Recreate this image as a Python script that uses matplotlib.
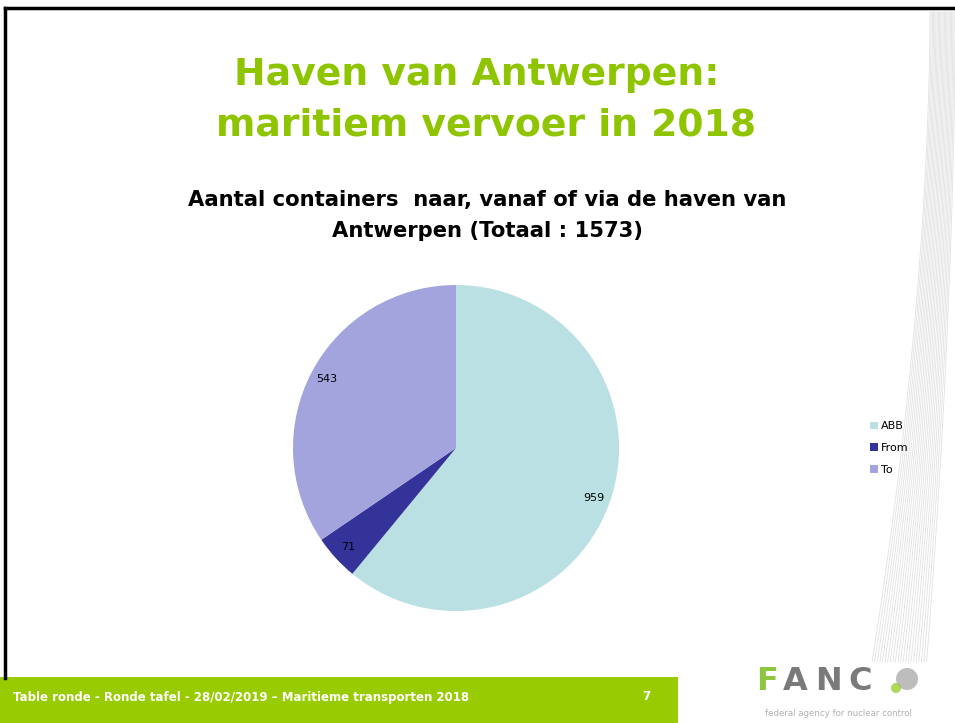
import numpy as np
import matplotlib.pyplot as plt
from matplotlib.patches import Rectangle, Circle

# data
categories = ["ABB", "From", "To"]
counts = [959, 71, 543]
colors = ["#bbe0e3", "#333399", "#a3a3dd"]

title_lines = ["Haven van Antwerpen:", "maritiem vervoer in 2018"]
subtitle_lines = ["Aantal containers  naar, vanaf of via de haven van",
                  "Antwerpen (Totaal : 1573)"]
footer = "Table ronde - Ronde tafel - 28/02/2019 \u2013 Maritieme transporten 2018"

W, H = 955, 723
fig = plt.figure(figsize=(W / 100, H / 100), dpi=100)
fig.patch.set_facecolor("white")
plt.rcParams["font.family"] = ["DejaVu Sans"]


def fx(px):
    return px / W


def fy(py):
    return 1 - py / H


# background layer for the slide decorations
bg = fig.add_axes([0, 0, 1, 1])
bg.set_xlim(0, W)
bg.set_ylim(H, 0)
bg.axis("off")

# faint decorative stripes on the right
t = np.linspace(0, 1, 80)
for i in range(22):
    top = 930 + i * 1.2
    bot = 872 + i * 2.6
    xs = top + (bot - top) * t ** 1.8
    ys = 12 + 650 * t
    bg.plot(xs, ys, color="#e2e2e2", lw=0.6)

# slide border (top and left)
bg.plot([5, W], [8, 8], color="black", lw=2.5)
bg.plot([5, 5], [8, 678], color="black", lw=2.5)

# footer bar
bg.add_patch(Rectangle((0, 677), 678, 46, color="#99cc00", lw=0))
bg.text(13, 697, footer, color="white", fontsize=8.5, fontweight="bold",
        va="center", ha="left")
bg.text(646, 697, "7", color="white", fontsize=8.5, fontweight="bold",
        va="center", ha="center")

# logo
for ch, x, c in zip("FANC", [756, 783, 815, 848],
                    ["#8dc63f", "#7a7a7a", "#7a7a7a", "#7a7a7a"]):
    bg.text(x, 682, ch, color=c, fontsize=23, fontweight="bold",
            va="center", ha="left")
bg.add_patch(Circle((907, 679), 11, color="#bdbdbd", lw=0))
bg.add_patch(Circle((896, 688), 5, color="#9acd32", lw=0, alpha=0.8))
bg.text(838, 713, "federal agency for nuclear control", color="#b0b0b0",
        fontsize=6.2, va="center", ha="center")

# titles
fig.text(fx(477), fy(75), title_lines[0], color="#8fc400", fontsize=27.2,
         fontweight="bold", ha="center", va="center")
fig.text(fx(486), fy(125), title_lines[1], color="#8fc400", fontsize=27.2,
         fontweight="bold", ha="center", va="center")
fig.text(fx(487), fy(200), subtitle_lines[0], color="black", fontsize=15.2,
         fontweight="bold", ha="center", va="center")
fig.text(fx(487), fy(231), subtitle_lines[1], color="black", fontsize=15.2,
         fontweight="bold", ha="center", va="center")

# pie
cx, cy, r = 456, 448, 163
ax = fig.add_axes([fx(cx - r), fy(cy + r), 2 * r / W, 2 * r / H])
wedges, texts = ax.pie(counts, colors=colors, startangle=90, counterclock=False,
                       labels=[str(c) for c in counts], labeldistance=0.9,
                       wedgeprops={"linewidth": 0},
                       textprops={"fontsize": 8, "color": "black"})
for txt in texts:
    txt.set_ha("center")
    txt.set_va("center")
ax.set_xlim(-1, 1)
ax.set_ylim(-1, 1)
ax.set_aspect("equal")

# legend
leg = fig.legend(wedges, categories, loc="center left",
                 bbox_to_anchor=(fx(860), fy(448)), frameon=False,
                 fontsize=8, handlelength=0.7, handleheight=0.7,
                 handletextpad=0.3, labelspacing=1.05)

fig.savefig("out.png", dpi=100)
